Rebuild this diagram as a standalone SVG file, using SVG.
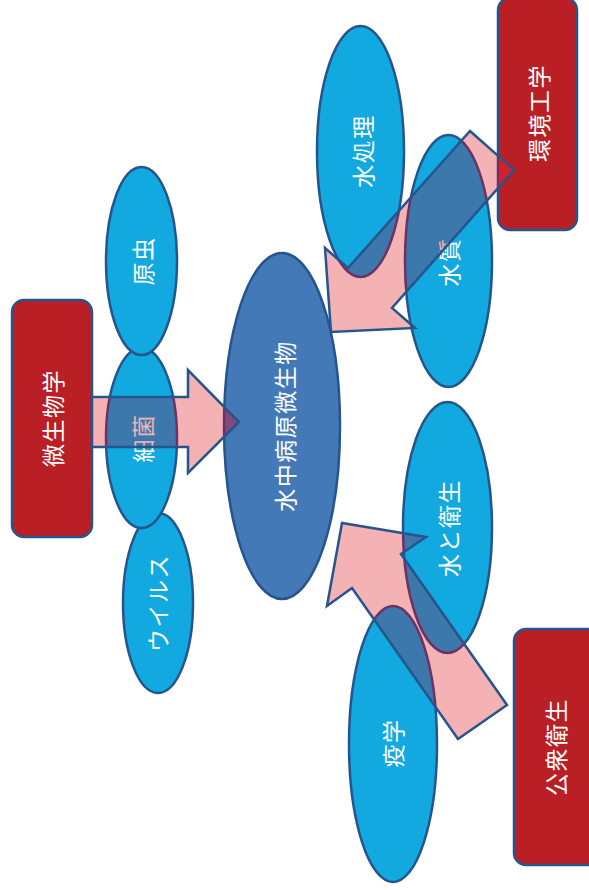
<svg xmlns="http://www.w3.org/2000/svg" xmlns:xlink="http://www.w3.org/1999/xlink" width="589" height="890" viewBox="0 0 589 890">
<style>
.lb{fill:#11A9E0;stroke:#25558C;stroke-width:2.5}
.cb{fill:#4479B8;stroke:#25558C;stroke-width:2.5}
.rb{fill:#B91F24;stroke:#25558C;stroke-width:2.5}
.ov{fill:#3C78AB;stroke:#6B3363;stroke-width:2.5}
.ovc{fill:#7E4B7C;stroke:#6B3363;stroke-width:2.5}
.ovr{fill:#D42129;stroke:#6B3363;stroke-width:2.5}
.af{fill:#F5B2B5;stroke:none}
.as{fill:none;stroke:#25558C;stroke-width:2.5;stroke-linejoin:miter}
text{font-family:"Noto Sans CJK JP","Noto Sans CJK SC",sans-serif;font-size:23px;fill:#fff;text-anchor:middle;dominant-baseline:central;letter-spacing:1.5px}
text.pk{fill:#F5B2B5}
</style>
<defs>
<clipPath id="c1"><polygon points="92,397 188,397 188,370 239,422 188,473 188,447 92,447"/></clipPath>
<clipPath id="c2"><polygon points="470,131 514,170 392,308 415,328 331,332 325,248 348,268"/></clipPath>
<clipPath id="c3"><polygon points="507,705 458,739 352,588 327,606 342,523 426,537 401,554"/></clipPath>
</defs>
<rect width="589" height="890" fill="#fff"/>
<g id="nodes">
<g id="n-center"><ellipse class="cb" cx="282" cy="426" rx="58" ry="173"/><text transform="rotate(-90 284 426)" x="284" y="426">水中病原微生物</text></g>
<g id="n-biseibutsugaku"><rect class="rb" x="12" y="300" width="80" height="237" rx="12"/><text transform="rotate(-90 52 418)" x="52" y="418">微生物学</text></g>
<g id="n-virus"><ellipse class="lb" cx="158" cy="603" rx="35" ry="90"/><text transform="rotate(-90 157 603)" x="157" y="603">ウイルス</text></g>
<g id="n-saikin"><ellipse class="lb" cx="141.5" cy="438" rx="35.5" ry="90"/><text transform="rotate(-90 142 438)" x="142" y="438">細菌</text></g>
<g id="n-genchu"><ellipse class="lb" cx="141.5" cy="261" rx="35.5" ry="94"/><text transform="rotate(-90 142 261)" x="142" y="261">原虫</text></g>
<g id="n-mizushori"><ellipse class="lb" cx="360.5" cy="151.5" rx="43.5" ry="125.5"/><text transform="rotate(-90 362 151)" x="362" y="151">水処理</text></g>
<g id="n-suishitsu"><ellipse class="lb" cx="448.5" cy="261" rx="43.5" ry="126"/><text transform="rotate(-90 448 262)" x="448" y="262">水質</text></g>
<g id="n-kankyo"><rect class="rb" x="498" y="-2" width="79" height="232" rx="12"/><text transform="rotate(-90 538 113)" x="538" y="113">環境工学</text></g>
<g id="n-mizueisei"><ellipse class="lb" cx="447.5" cy="527.5" rx="44.5" ry="125.5"/><text transform="rotate(-90 448 528)" x="448" y="528">水と衛生</text></g>
<g id="n-ekigaku"><ellipse class="lb" cx="393" cy="744" rx="44" ry="138"/><text transform="rotate(-90 392 743)" x="392" y="743">疫学</text></g>
<g id="n-koshu"><rect class="rb" x="514" y="629" width="90" height="236" rx="12"/><text transform="rotate(-90 555 747)" x="555" y="747">公衆衛生</text></g>
</g>
<g id="connectors">
<g id="arrow1">
<polygon class="af" points="92,397 188,397 188,370 239,422 188,473 188,447 92,447"/>
<g clip-path="url(#c1)">
<ellipse class="ovc" cx="282" cy="426" rx="58" ry="173"/>
<ellipse class="ov" cx="141.5" cy="438" rx="35.5" ry="90"/><text class="pk" transform="rotate(-90 142 438)" x="142" y="438">細菌</text>
</g>
<polygon class="as" points="92,397 188,397 188,370 239,422 188,473 188,447 92,447"/>
</g>
<g id="arrow2">
<polygon class="af" points="470,131 514,170 392,308 415,328 331,332 325,248 348,268"/>
<g clip-path="url(#c2)">
<ellipse class="ov" cx="360.5" cy="151.5" rx="43.5" ry="125.5"/>
<ellipse class="ov" cx="448.5" cy="261" rx="43.5" ry="126"/><text class="pk" transform="rotate(-90 448 262)" x="448" y="262">水質</text>
<rect class="ovr" x="498" y="-2" width="79" height="232" rx="12"/>
</g>
<polygon class="as" points="470,131 514,170 392,308 415,328 331,332 325,248 348,268"/>
</g>
<g id="arrow3">
<polygon class="af" points="507,705 458,739 352,588 327,606 342,523 426,537 401,554"/>
<g clip-path="url(#c3)">
<ellipse class="ov" cx="447.5" cy="527.5" rx="44.5" ry="125.5"/>
<ellipse class="ov" cx="393" cy="744" rx="44" ry="138"/>
</g>
<polygon class="as" points="507,705 458,739 352,588 327,606 342,523 426,537 401,554"/>
</g>
</g>
</svg>
